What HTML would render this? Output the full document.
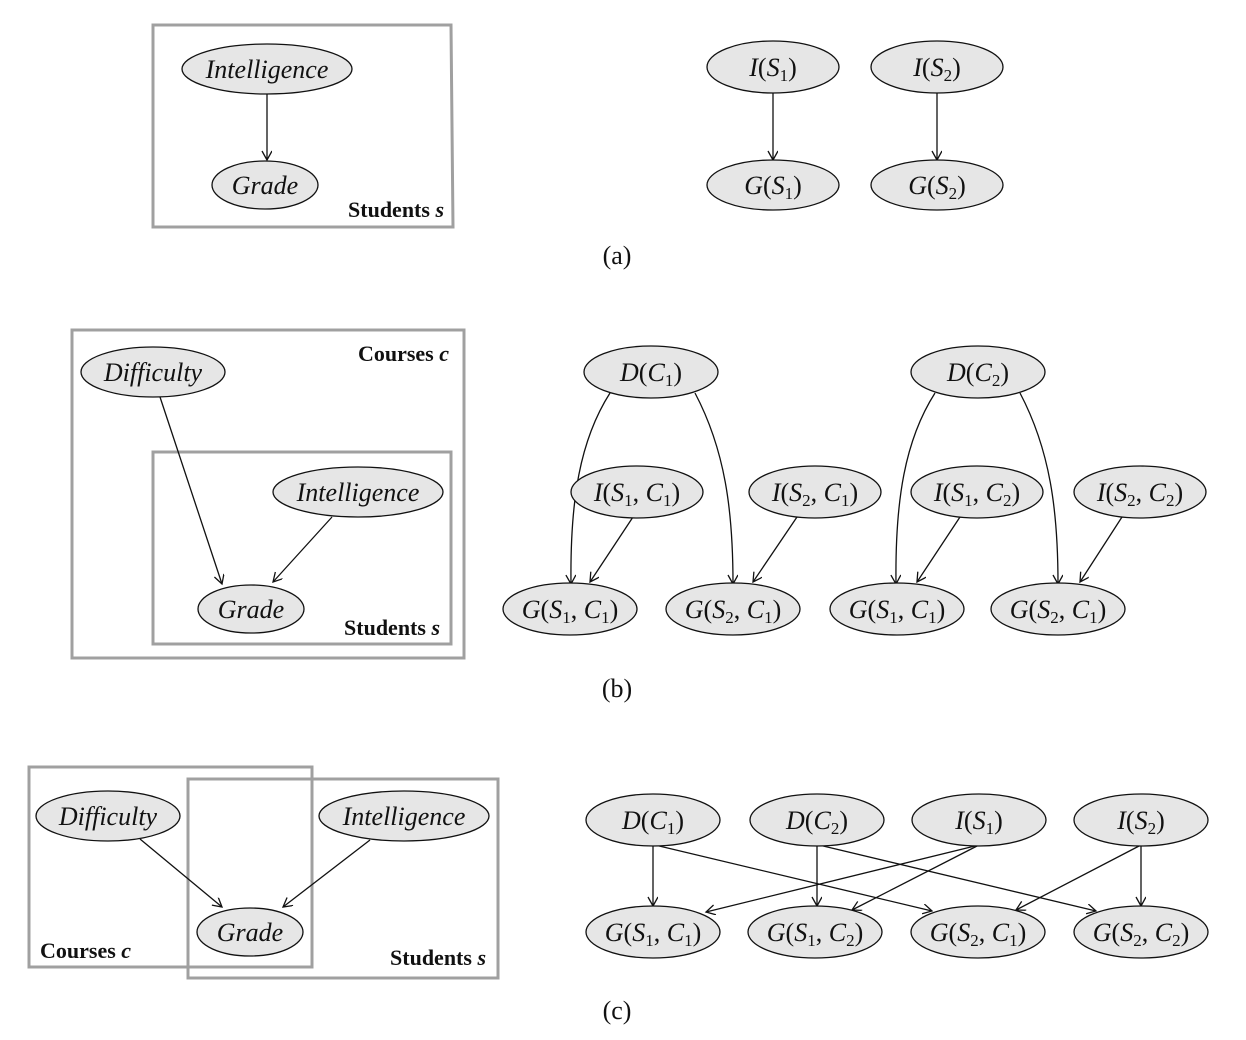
<!DOCTYPE html>
<html><head><meta charset="utf-8"><style>
html,body{margin:0;padding:0;background:#fff;}
svg{display:block;}
text{font-family:"Liberation Serif",serif;font-size:26px;fill:#111;}
.n{font-style:italic;}
.b{font-weight:bold;font-size:22px;}
.s{font-size:17px;font-style:normal;}
ellipse{fill:#e6e6e6;stroke:#111;stroke-width:1.3;}
.box{fill:none;stroke:#a0a0a0;stroke-width:3;}
.e{fill:none;stroke:#111;stroke-width:1.3;marker-end:url(#ah);}
</style></head><body>
<svg width="1246" height="1040" viewBox="0 0 1246 1040" xmlns="http://www.w3.org/2000/svg">
<defs><marker id="ah" markerWidth="14" markerHeight="14" refX="10" refY="5" orient="auto" markerUnits="userSpaceOnUse"><path d="M1,0 L10,5 L1,10" fill="none" stroke="#111" stroke-width="1.3"/></marker></defs>

<!-- (a) -->
<path class="box" d="M153,25 L451,25 L453,227 L153,227 Z"/>
<line class="e" x1="267" y1="94" x2="267" y2="160"/>
<ellipse cx="267" cy="69" rx="85" ry="25"/>
<text class="n" x="267" y="78" text-anchor="middle">Intelligence</text>
<ellipse cx="265" cy="185" rx="53" ry="24"/>
<text class="n" x="265" y="194" text-anchor="middle">Grade</text>
<text class="b" x="444" y="217" text-anchor="end">Students <tspan font-style="italic">s</tspan></text>

<line class="e" x1="773" y1="93" x2="773" y2="160"/>
<line class="e" x1="937" y1="93" x2="937" y2="160"/>
<ellipse cx="773" cy="67" rx="66" ry="26"/>
<ellipse cx="937" cy="67" rx="66" ry="26"/>
<ellipse cx="773" cy="185" rx="66" ry="25"/>
<ellipse cx="937" cy="185" rx="66" ry="25"/>
<text x="773" y="76" text-anchor="middle"><tspan class="n">I</tspan>(<tspan class="n">S</tspan><tspan class="s" dy="5">1</tspan><tspan dy="-5">)</tspan></text>
<text x="937" y="76" text-anchor="middle"><tspan class="n">I</tspan>(<tspan class="n">S</tspan><tspan class="s" dy="5">2</tspan><tspan dy="-5">)</tspan></text>
<text x="773" y="194" text-anchor="middle"><tspan class="n">G</tspan>(<tspan class="n">S</tspan><tspan class="s" dy="5">1</tspan><tspan dy="-5">)</tspan></text>
<text x="937" y="194" text-anchor="middle"><tspan class="n">G</tspan>(<tspan class="n">S</tspan><tspan class="s" dy="5">2</tspan><tspan dy="-5">)</tspan></text>
<text x="617" y="264" text-anchor="middle">(a)</text>

<!-- (b) -->
<rect class="box" x="72" y="330" width="392" height="328"/>
<rect class="box" x="153" y="452" width="298" height="192"/>
<line class="e" x1="160" y1="397" x2="222" y2="584"/>
<line class="e" x1="332" y1="517" x2="273" y2="582"/>
<ellipse cx="153" cy="372" rx="72" ry="25"/>
<text class="n" x="153" y="381" text-anchor="middle">Difficulty</text>
<ellipse cx="358" cy="492" rx="85" ry="25"/>
<text class="n" x="358" y="501" text-anchor="middle">Intelligence</text>
<ellipse cx="251" cy="609" rx="53" ry="24"/>
<text class="n" x="251" y="618" text-anchor="middle">Grade</text>
<text class="b" x="449" y="361" text-anchor="end">Courses <tspan font-style="italic">c</tspan></text>
<text class="b" x="440" y="635" text-anchor="end">Students <tspan font-style="italic">s</tspan></text>

<path class="e" d="M610,393 C580,440 570,500 571,584"/>
<path class="e" d="M695,393 C725,450 733,510 733,584"/>
<path class="e" d="M935,393 C905,440 895,500 896,584"/>
<path class="e" d="M1020,393 C1050,450 1058,510 1058,584"/>
<line class="e" x1="633" y1="517" x2="590" y2="582"/>
<line class="e" x1="797" y1="517" x2="753" y2="582"/>
<line class="e" x1="960" y1="517" x2="917" y2="582"/>
<line class="e" x1="1122" y1="517" x2="1080" y2="582"/>
<ellipse cx="651" cy="372" rx="67" ry="26"/>
<ellipse cx="978" cy="372" rx="67" ry="26"/>
<text x="651" y="381" text-anchor="middle"><tspan class="n">D</tspan>(<tspan class="n">C</tspan><tspan class="s" dy="5">1</tspan><tspan dy="-5">)</tspan></text>
<text x="978" y="381" text-anchor="middle"><tspan class="n">D</tspan>(<tspan class="n">C</tspan><tspan class="s" dy="5">2</tspan><tspan dy="-5">)</tspan></text>
<g>
<ellipse cx="637" cy="492" rx="66" ry="26"/>
<ellipse cx="815" cy="492" rx="66" ry="26"/>
<ellipse cx="977" cy="492" rx="66" ry="26"/>
<ellipse cx="1140" cy="492" rx="66" ry="26"/>
<text x="637" y="501" text-anchor="middle"><tspan class="n">I</tspan>(<tspan class="n">S</tspan><tspan class="s" dy="5">1</tspan><tspan dy="-5">, </tspan><tspan class="n">C</tspan><tspan class="s" dy="5">1</tspan><tspan dy="-5">)</tspan></text>
<text x="815" y="501" text-anchor="middle"><tspan class="n">I</tspan>(<tspan class="n">S</tspan><tspan class="s" dy="5">2</tspan><tspan dy="-5">, </tspan><tspan class="n">C</tspan><tspan class="s" dy="5">1</tspan><tspan dy="-5">)</tspan></text>
<text x="977" y="501" text-anchor="middle"><tspan class="n">I</tspan>(<tspan class="n">S</tspan><tspan class="s" dy="5">1</tspan><tspan dy="-5">, </tspan><tspan class="n">C</tspan><tspan class="s" dy="5">2</tspan><tspan dy="-5">)</tspan></text>
<text x="1140" y="501" text-anchor="middle"><tspan class="n">I</tspan>(<tspan class="n">S</tspan><tspan class="s" dy="5">2</tspan><tspan dy="-5">, </tspan><tspan class="n">C</tspan><tspan class="s" dy="5">2</tspan><tspan dy="-5">)</tspan></text>
</g>
<g>
<ellipse cx="570" cy="609" rx="67" ry="26"/>
<ellipse cx="733" cy="609" rx="67" ry="26"/>
<ellipse cx="897" cy="609" rx="67" ry="26"/>
<ellipse cx="1058" cy="609" rx="67" ry="26"/>
<text x="570" y="618" text-anchor="middle"><tspan class="n">G</tspan>(<tspan class="n">S</tspan><tspan class="s" dy="5">1</tspan><tspan dy="-5">, </tspan><tspan class="n">C</tspan><tspan class="s" dy="5">1</tspan><tspan dy="-5">)</tspan></text>
<text x="733" y="618" text-anchor="middle"><tspan class="n">G</tspan>(<tspan class="n">S</tspan><tspan class="s" dy="5">2</tspan><tspan dy="-5">, </tspan><tspan class="n">C</tspan><tspan class="s" dy="5">1</tspan><tspan dy="-5">)</tspan></text>
<text x="897" y="618" text-anchor="middle"><tspan class="n">G</tspan>(<tspan class="n">S</tspan><tspan class="s" dy="5">1</tspan><tspan dy="-5">, </tspan><tspan class="n">C</tspan><tspan class="s" dy="5">1</tspan><tspan dy="-5">)</tspan></text>
<text x="1058" y="618" text-anchor="middle"><tspan class="n">G</tspan>(<tspan class="n">S</tspan><tspan class="s" dy="5">2</tspan><tspan dy="-5">, </tspan><tspan class="n">C</tspan><tspan class="s" dy="5">1</tspan><tspan dy="-5">)</tspan></text>
</g>
<text x="617" y="697" text-anchor="middle">(b)</text>

<!-- (c) -->
<rect class="box" x="29" y="767" width="283" height="200"/>
<rect class="box" x="188" y="779" width="310" height="199"/>
<line class="e" x1="140" y1="839" x2="222" y2="907"/>
<line class="e" x1="370" y1="840" x2="283" y2="907"/>
<ellipse cx="108" cy="816" rx="72" ry="25"/>
<text class="n" x="108" y="825" text-anchor="middle">Difficulty</text>
<ellipse cx="404" cy="816" rx="85" ry="25"/>
<text class="n" x="404" y="825" text-anchor="middle">Intelligence</text>
<ellipse cx="250" cy="932" rx="53" ry="24"/>
<text class="n" x="250" y="941" text-anchor="middle">Grade</text>
<text class="b" x="40" y="958">Courses <tspan font-style="italic">c</tspan></text>
<text class="b" x="486" y="965" text-anchor="end">Students <tspan font-style="italic">s</tspan></text>

<line class="e" x1="653" y1="845" x2="653" y2="906"/>
<line class="e" x1="655" y1="845" x2="932" y2="911"/>
<line class="e" x1="817" y1="845" x2="817" y2="906"/>
<line class="e" x1="819" y1="845" x2="1096" y2="911"/>
<line class="e" x1="979" y1="845" x2="706" y2="912"/>
<line class="e" x1="979" y1="845" x2="852" y2="910"/>
<line class="e" x1="1141" y1="845" x2="1141" y2="906"/>
<line class="e" x1="1141" y1="845" x2="1016" y2="910"/>
<ellipse cx="653" cy="820" rx="67" ry="26"/>
<ellipse cx="817" cy="820" rx="67" ry="26"/>
<ellipse cx="979" cy="820" rx="67" ry="26"/>
<ellipse cx="1141" cy="820" rx="67" ry="26"/>
<text x="653" y="829" text-anchor="middle"><tspan class="n">D</tspan>(<tspan class="n">C</tspan><tspan class="s" dy="5">1</tspan><tspan dy="-5">)</tspan></text>
<text x="817" y="829" text-anchor="middle"><tspan class="n">D</tspan>(<tspan class="n">C</tspan><tspan class="s" dy="5">2</tspan><tspan dy="-5">)</tspan></text>
<text x="979" y="829" text-anchor="middle"><tspan class="n">I</tspan>(<tspan class="n">S</tspan><tspan class="s" dy="5">1</tspan><tspan dy="-5">)</tspan></text>
<text x="1141" y="829" text-anchor="middle"><tspan class="n">I</tspan>(<tspan class="n">S</tspan><tspan class="s" dy="5">2</tspan><tspan dy="-5">)</tspan></text>
<ellipse cx="653" cy="932" rx="67" ry="26"/>
<ellipse cx="815" cy="932" rx="67" ry="26"/>
<ellipse cx="978" cy="932" rx="67" ry="26"/>
<ellipse cx="1141" cy="932" rx="67" ry="26"/>
<text x="653" y="941" text-anchor="middle"><tspan class="n">G</tspan>(<tspan class="n">S</tspan><tspan class="s" dy="5">1</tspan><tspan dy="-5">, </tspan><tspan class="n">C</tspan><tspan class="s" dy="5">1</tspan><tspan dy="-5">)</tspan></text>
<text x="815" y="941" text-anchor="middle"><tspan class="n">G</tspan>(<tspan class="n">S</tspan><tspan class="s" dy="5">1</tspan><tspan dy="-5">, </tspan><tspan class="n">C</tspan><tspan class="s" dy="5">2</tspan><tspan dy="-5">)</tspan></text>
<text x="978" y="941" text-anchor="middle"><tspan class="n">G</tspan>(<tspan class="n">S</tspan><tspan class="s" dy="5">2</tspan><tspan dy="-5">, </tspan><tspan class="n">C</tspan><tspan class="s" dy="5">1</tspan><tspan dy="-5">)</tspan></text>
<text x="1141" y="941" text-anchor="middle"><tspan class="n">G</tspan>(<tspan class="n">S</tspan><tspan class="s" dy="5">2</tspan><tspan dy="-5">, </tspan><tspan class="n">C</tspan><tspan class="s" dy="5">2</tspan><tspan dy="-5">)</tspan></text>
<text x="617" y="1019" text-anchor="middle">(c)</text>
</svg>
</body></html>
